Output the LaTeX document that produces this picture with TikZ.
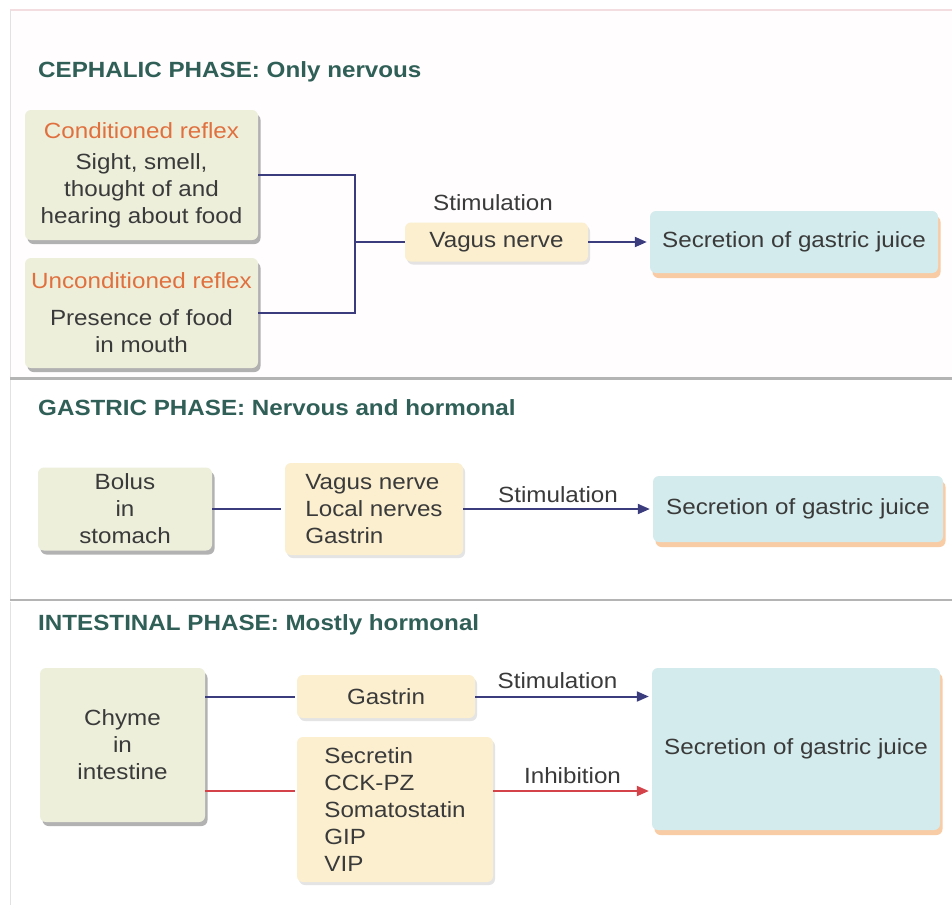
\documentclass[tikz,border=0pt]{standalone}
\usepackage{fontspec}
\setmainfont[FakeStretch=1.1]{Liberation Sans}
\usetikzlibrary{shadows,arrows.meta,positioning}
\definecolor{boxgreen}{HTML}{EDEFDB}
\definecolor{boxyellow}{HTML}{FBEFCF}
\definecolor{boxcyan}{HTML}{D3EBEC}
\definecolor{titlecol}{HTML}{2F5F57}
\definecolor{reflexcol}{HTML}{E0703E}
\definecolor{navyline}{HTML}{3A3C7E}
\definecolor{redline}{HTML}{D4424A}
\definecolor{txtcol}{HTML}{3A3A3A}
\definecolor{sepgray}{HTML}{B4B4B4}
\definecolor{edgegray}{HTML}{E2E2E2}
\definecolor{pinkedge}{HTML}{F3DDE0}
\definecolor{shadoworange}{HTML}{F4AA6A}
\tikzset{
  txt/.style={font=\fontsize{22}{27}\selectfont, text=txtcol},
  phasetitle/.style={font=\fontsize{22}{26}\selectfont\bfseries, text=titlecol, anchor=west, inner sep=0pt},
  basebox/.style={txt, rounded corners=6pt, inner sep=2pt, align=center},
  greenbox/.style={basebox, fill=boxgreen,
     drop shadow={shadow xshift=2.5pt, shadow yshift=-4pt, fill=black!60, opacity=0.5}},
  yellowbox/.style={basebox, fill=boxyellow,
     drop shadow={shadow xshift=2pt, shadow yshift=-3pt, fill=black!30, opacity=0.35}},
  cyanbox/.style={basebox, fill=boxcyan,
     drop shadow={shadow xshift=2.5pt, shadow yshift=-5pt, fill=shadoworange, opacity=0.6}},
  navyconn/.style={draw=navyline, line width=2pt},
  redconn/.style={draw=redline, line width=2pt},
  navyarrow/.style={navyconn, -{Triangle[length=12pt,width=10pt]}, shorten >=3pt},
  redarrow/.style={redconn, -{Triangle[length=12pt,width=10pt]}, shorten >=3pt},
  lbl/.style={txt, inner sep=1pt}
}
\begin{document}
\begin{tikzpicture}[x=1pt,y=-1pt]
\useasboundingbox (0,0) rectangle (952,910);
\fill[white] (0,0) rectangle (952,910);
% panels
\fill[white!97!pink] (10,10) rectangle (952,377);
\draw[pinkedge, line width=1.2pt] (10,10) -- (952,10);
\draw[edgegray, line width=1pt] (10,10) -- (10,377);
\draw[edgegray, line width=1pt] (10,380) -- (10,599);
\draw[edgegray, line width=1pt] (10,602) -- (10,905);
\draw[sepgray, line width=3pt] (10,378) -- (952,378);
\draw[sepgray, line width=2.5pt] (10,600) -- (952,600);

% ===== Cephalic phase =====
\node[phasetitle] (t1) at (38,72) {CEPHALIC PHASE: Only nervous};
\node[greenbox, minimum width=233pt, minimum height=130pt] (cond) at (141.5,175)
  {\textcolor{reflexcol}{Conditioned reflex}\\[4pt] Sight, smell,\\ thought of and\\ hearing about food};
\node[greenbox, minimum width=233pt, minimum height=110pt] (uncond) at (141.5,313)
  {\textcolor{reflexcol}{Unconditioned reflex}\\[10pt] Presence of food\\ in mouth};
\node[yellowbox, minimum width=183pt, minimum height=39pt] (vagus) at (496.5,242) {Vagus nerve};
\node[lbl] (stim1) at (493,203) {Stimulation};
\node[cyanbox, minimum width=288pt, minimum height=62pt] (sec1) at (794,242) {Secretion of gastric juice};
\coordinate (j1) at (355,242);
\draw[navyconn] (cond.east) -| (j1) |- (uncond.east);
\draw[navyconn] (j1) -- (vagus.west);
\draw[navyarrow] (vagus.east) -- (sec1.west);

% ===== Gastric phase =====
\node[phasetitle] (t2) at (38,408) {GASTRIC PHASE: Nervous and hormonal};
\node[greenbox, minimum width=174pt, minimum height=83pt] (bolus) at (125,509) {Bolus\\ in\\ stomach};
\node[yellowbox, minimum width=178pt, minimum height=92pt, align=left] (gnerves) at (374,509)
  {Vagus nerve\\ Local nerves\\ Gastrin};
\node[cyanbox, minimum width=290pt, minimum height=66pt] (sec2) at (798,509) {Secretion of gastric juice};
\draw[navyconn, shorten >=4pt] (bolus.east) -- (gnerves.west);
\draw[navyarrow] (gnerves.east) -- node[lbl, above=4pt] (stim2) {Stimulation} (sec2.west);

% ===== Intestinal phase =====
\node[phasetitle] (t3) at (38,625) {INTESTINAL PHASE: Mostly hormonal};
\node[greenbox, minimum width=165pt, minimum height=154pt] (chyme) at (122.5,745) {Chyme\\ in\\ intestine};
\node[yellowbox, minimum width=178pt, minimum height=43pt] (gastrin) at (386,696.5) {Gastrin};
\node[yellowbox, minimum width=196pt, minimum height=145pt, align=left] (horm) at (395,809.5)
  {Secretin\\ CCK-PZ\\ Somatostatin\\ GIP\\ VIP};
\node[cyanbox, minimum width=288pt, minimum height=162pt] (sec3) at (796,749) {Secretion of gastric juice};
\coordinate (r3) at (250,791);
\draw[navyconn, shorten >=2pt] (chyme.east |- gastrin.west) -- (gastrin.west);
\draw[redconn, shorten >=2pt] (chyme.east |- r3) -- (horm.west |- r3);
\draw[navyarrow] (gastrin.east) -- node[lbl, above=6pt, xshift=-6pt] (stim3) {Stimulation} (sec3.west |- gastrin.east);
\draw[redarrow] (horm.east |- r3) -- node[lbl, above=5pt] (inhib) {Inhibition} (sec3.west |- r3);
\end{tikzpicture}
\end{document}
